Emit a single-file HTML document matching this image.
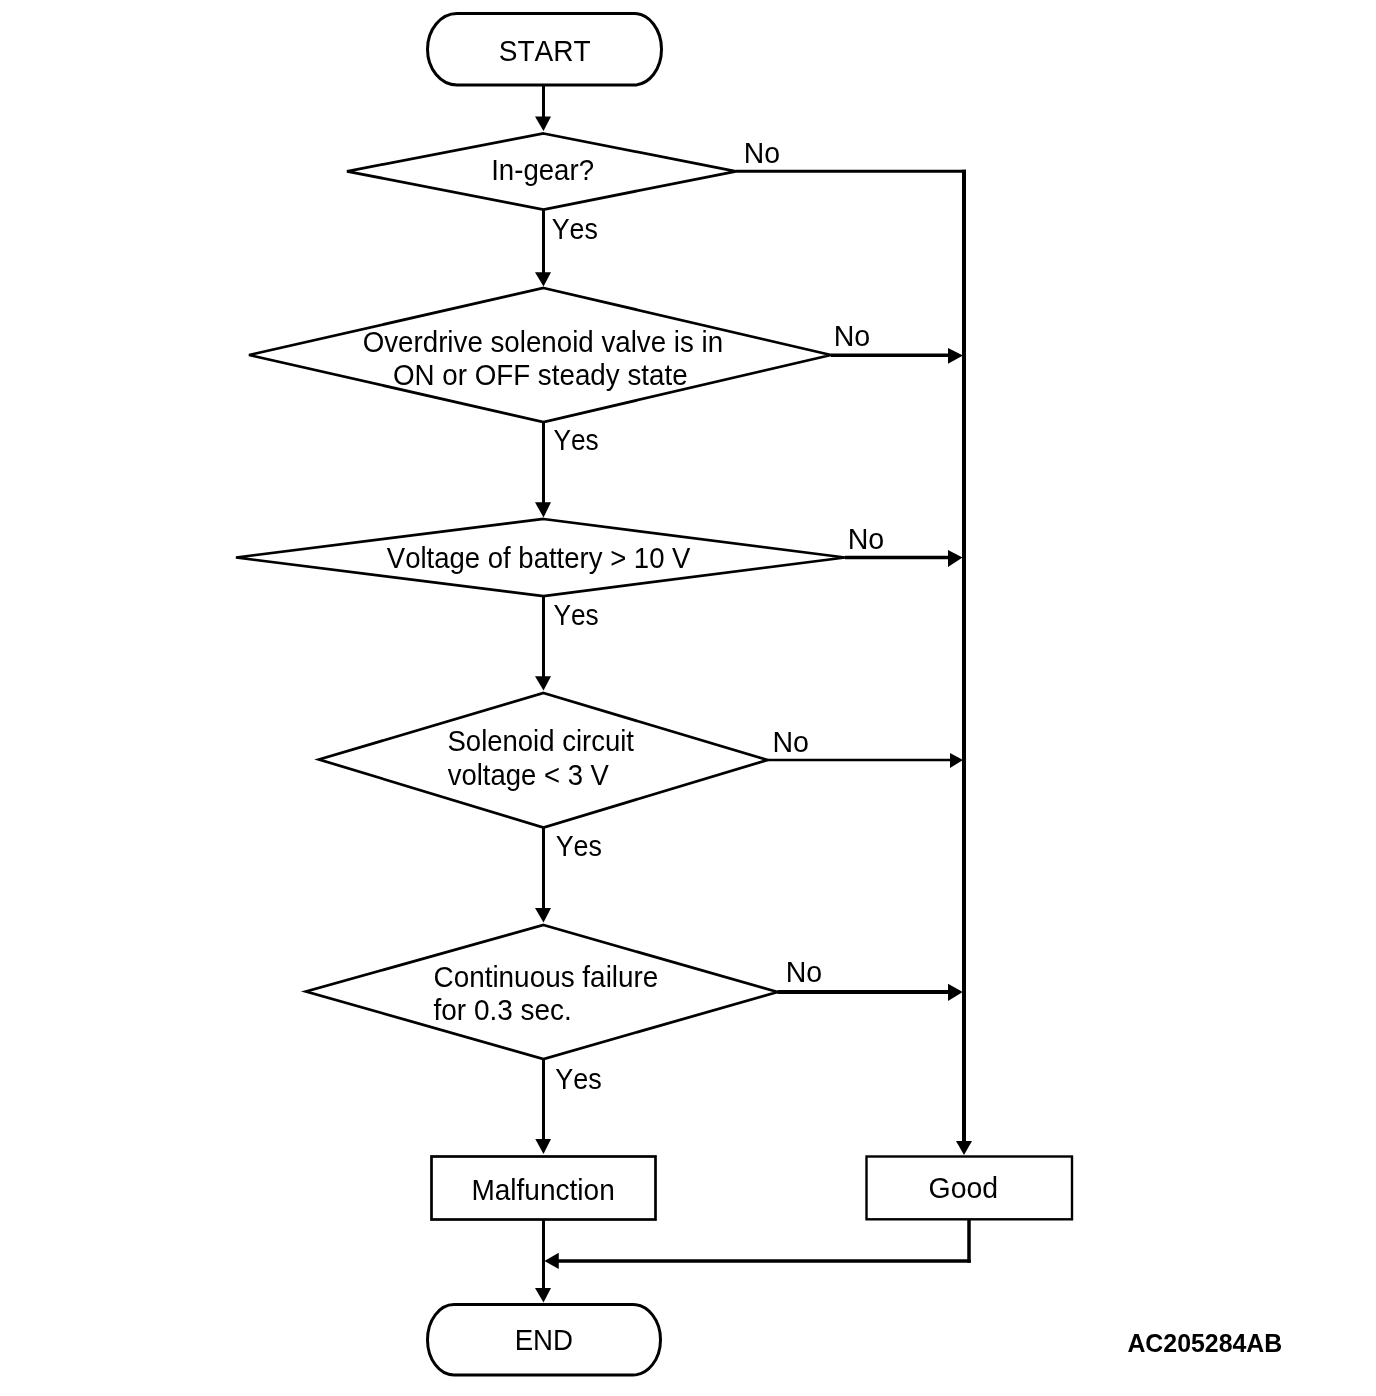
<!DOCTYPE html>
<html><head><meta charset="utf-8"><title>Flowchart</title>
<style>
html,body{margin:0;padding:0;background:#fff;}
body{width:1376px;height:1396px;overflow:hidden;}
svg{display:block;will-change:transform;}
svg text{font-family:"Liberation Sans",sans-serif;fill:#000;font-kerning:none;}
svg line{stroke:#000;stroke-linecap:butt;}
svg polygon{fill:#000;}
svg .s{fill:none;stroke:#000;stroke-linejoin:miter;}
</style></head>
<body>
<svg width="1376" height="1396" viewBox="0 0 1376 1396">
<path class="s" d="M457.00,13.50 L634.00,13.50 A27.50,35.75 0 0 1 634.00,85.00 L457.00,85.00 A29.50,35.75 0 0 1 457.00,13.50 Z" stroke-width="3"/>
<line x1="543.50" y1="85.00" x2="543.50" y2="118.00" stroke-width="3"/>
<polygon points="535.00,116.50 551.00,116.50 543.50,131.00"/>
<polygon class="s" points="543.50,133.50 736.00,171.30 543.50,209.50 347.00,171.30" stroke-width="2.75"/>
<line x1="736.00" y1="171.30" x2="966.00" y2="171.30" stroke-width="3"/>
<line x1="964.00" y1="169.80" x2="964.00" y2="1142.00" stroke-width="4"/>
<polygon points="956.00,1141.00 972.00,1141.00 964.00,1155.00"/>
<line x1="543.50" y1="209.50" x2="543.50" y2="274.00" stroke-width="3"/>
<polygon points="535.00,272.25 551.00,272.25 543.50,286.50"/>
<polygon class="s" points="543.50,288.00 831.00,355.00 543.50,422.00 249.00,355.00" stroke-width="2.75"/>
<line x1="831.00" y1="355.30" x2="950.00" y2="355.30" stroke-width="3.5"/>
<polygon points="948.00,348.00 948.00,363.75 963.00,355.50"/>
<line x1="543.50" y1="422.00" x2="543.50" y2="504.00" stroke-width="3"/>
<polygon points="535.00,502.25 551.00,502.25 543.50,517.50"/>
<polygon class="s" points="543.50,519.00 845.00,557.50 543.50,596.00 236.00,557.50" stroke-width="2.75"/>
<line x1="845.00" y1="557.50" x2="950.00" y2="557.50" stroke-width="3.5"/>
<polygon points="948.00,550.00 948.00,567.00 962.50,557.50"/>
<line x1="543.50" y1="596.00" x2="543.50" y2="678.00" stroke-width="3"/>
<polygon points="535.00,676.25 551.00,676.25 543.50,690.60"/>
<polygon class="s" points="543.50,693.00 767.50,760.00 543.50,827.50 319.00,759.50" stroke-width="2.75"/>
<line x1="767.50" y1="760.00" x2="952.00" y2="760.00" stroke-width="2.5"/>
<polygon points="950.00,753.00 950.00,768.00 963.00,760.00"/>
<line x1="543.50" y1="827.50" x2="543.50" y2="910.00" stroke-width="3"/>
<polygon points="535.00,908.00 551.00,908.00 543.50,922.50"/>
<polygon class="s" points="543.50,925.00 777.50,992.00 543.50,1059.00 306.00,991.50" stroke-width="2.75"/>
<line x1="777.50" y1="992.00" x2="950.00" y2="992.00" stroke-width="4"/>
<polygon points="948.00,983.75 948.00,1001.00 962.75,992.00"/>
<line x1="543.50" y1="1059.00" x2="543.50" y2="1141.00" stroke-width="3"/>
<polygon points="535.30,1139.00 551.00,1139.00 543.50,1154.00"/>
<rect class="s" x="431.5" y="1156.5" width="224" height="63" stroke-width="2.7"/>
<rect class="s" x="866.5" y="1156.5" width="205.5" height="62.8" stroke-width="2.4"/>
<line x1="969.00" y1="1219.00" x2="969.00" y2="1262.75" stroke-width="3.5"/>
<line x1="970.75" y1="1261.00" x2="557.00" y2="1261.00" stroke-width="3.5"/>
<polygon points="544.40,1261.00 558.75,1252.75 558.75,1269.00"/>
<line x1="543.50" y1="1219.00" x2="543.50" y2="1290.00" stroke-width="3"/>
<polygon points="535.00,1288.00 551.00,1288.00 543.50,1302.50"/>
<path class="s" d="M454.00,1304.50 L633.00,1304.50 A27.50,35.25 0 0 1 633.00,1375.00 L454.00,1375.00 A26.50,35.25 0 0 1 454.00,1304.50 Z" stroke-width="3"/>
<text transform="translate(498.73 60.80) scale(0.9347 0.970)" font-size="30">START</text>
<text transform="translate(491.20 180.00) scale(0.9202 0.970)" font-size="30">In-gear?</text>
<text transform="translate(743.67 163.10) scale(0.9457 0.970)" font-size="30">No</text>
<text transform="translate(551.66 238.75) scale(0.8939 0.970)" font-size="30">Yes</text>
<text transform="translate(362.69 351.90) scale(0.9240 0.970)" font-size="30">Overdrive solenoid valve is in</text>
<text transform="translate(392.88 385.00) scale(0.9256 0.970)" font-size="30">ON or OFF steady state</text>
<text transform="translate(833.65 346.00) scale(0.9530 0.970)" font-size="30">No</text>
<text transform="translate(553.42 450.00) scale(0.8759 0.970)" font-size="30">Yes</text>
<text transform="translate(386.78 567.80) scale(0.9178 0.970)" font-size="30">Voltage of battery &gt; 10 V</text>
<text transform="translate(847.65 549.00) scale(0.9530 0.970)" font-size="30">No</text>
<text transform="translate(553.42 624.75) scale(0.8759 0.970)" font-size="30">Yes</text>
<text transform="translate(447.50 750.75) scale(0.9172 0.970)" font-size="30">Solenoid circuit</text>
<text transform="translate(447.71 784.90) scale(0.9162 0.970)" font-size="30">voltage &lt; 3 V</text>
<text transform="translate(772.40 751.90) scale(0.9530 0.970)" font-size="30">No</text>
<text transform="translate(555.66 856.00) scale(0.8959 0.970)" font-size="30">Yes</text>
<text transform="translate(433.48 986.90) scale(0.9303 0.970)" font-size="30">Continuous failure</text>
<text transform="translate(433.50 1019.90) scale(0.9323 0.970)" font-size="30">for 0.3 sec.</text>
<text transform="translate(785.66 981.90) scale(0.9501 0.970)" font-size="30">No</text>
<text transform="translate(555.31 1088.90) scale(0.9009 0.970)" font-size="30">Yes</text>
<text transform="translate(471.40 1200.20) scale(0.9349 0.970)" font-size="30">Malfunction</text>
<text transform="translate(928.57 1197.75) scale(0.9472 0.970)" font-size="30">Good</text>
<text transform="translate(514.63 1350.00) scale(0.9219 0.970)" font-size="30">END</text>
<text transform="translate(1127.38 1351.70) scale(0.9573 1.000)" font-size="26" font-weight="bold">AC205284AB</text>
</svg>
</body></html>
